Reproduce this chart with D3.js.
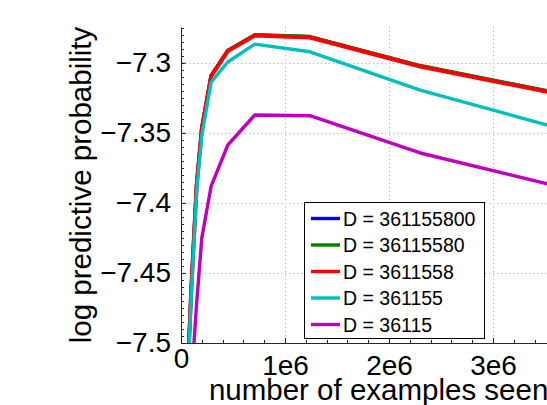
<!DOCTYPE html>
<html>
<head>
<meta charset="utf-8">
<script src="https://cdn.jsdelivr.net/npm/d3@7"></script>
<style>
  html, body { margin: 0; padding: 0; background: #fff; }
  svg { display: block; font-family: "Liberation Sans", Arial, Helvetica, sans-serif; }
</style>
</head>
<body>
<svg id="chart" width="547" height="405"></svg>
<script>
// Number of training examples processed at each evaluation
const examples = [50000, 100000, 150000, 200000, 290000, 450000, 710000, 1240000, 2300000, 3800000];

// Held-out log predictive probability for each value of D
const seriesLabels = ["D = 361155800", "D = 36115580", "D = 3611558", "D = 361155", "D = 36115"];
const seriesColors = ["#0000ff", "#008000", "#ff0000", "#00bfbf", "#bf00bf"];
const valuesD361155800 = [-7.5435, -7.4585, -7.3866, -7.3462, -7.3091, -7.2913, -7.2802, -7.2815, -7.3022, -7.3244];
const valuesD36115580  = [-7.5440, -7.4590, -7.3870, -7.3465, -7.3090, -7.2912, -7.2800, -7.2813, -7.3020, -7.3241];
const valuesD3611558   = [-7.5450, -7.4600, -7.3880, -7.3470, -7.3095, -7.2917, -7.2806, -7.2820, -7.3027, -7.3249];
const valuesD361155    = [-7.5500, -7.4650, -7.3920, -7.3520, -7.3138, -7.2995, -7.2867, -7.2922, -7.3195, -7.3501];
const valuesD36115     = [-7.5800, -7.5280, -7.4720, -7.4250, -7.3880, -7.3587, -7.3373, -7.3378, -7.3644, -7.3915];
const seriesValues = [valuesD361155800, valuesD36115580, valuesD3611558, valuesD361155, valuesD36115];

// Axis ticks
const xTicks = [0, 1000000, 2000000, 3000000];
const xTickLabels = ["0", "1e6", "2e6", "3e6"];
const yTicks = [-7.5, -7.45, -7.4, -7.35, -7.3];
const yTickLabels = ["\u22127.5", "\u22127.45", "\u22127.4", "\u22127.35", "\u22127.3"];

const svg = d3.select("#chart");
const plotLeft = 181, plotRight = 576.2, plotTop = 27, plotBottom = 343;

const x = d3.scaleLinear().domain([0, 3800000]).range([plotLeft, plotRight]);
const y = d3.scaleLinear().domain([-7.5, -7.2745]).range([plotBottom, plotTop]);

svg.append("defs").append("clipPath").attr("id", "plotArea")
  .append("rect").attr("x", plotLeft).attr("y", plotTop)
  .attr("width", plotRight - plotLeft).attr("height", plotBottom - plotTop);

// Dotted major grid
const grid = svg.append("g")
  .attr("stroke", "#b4b4b4").attr("stroke-width", 1).attr("stroke-dasharray", "1.2,2.8");
grid.selectAll("line.gx").data(xTicks.slice(1)).join("line")
  .attr("x1", d => Math.round(x(d)) + 0.5).attr("x2", d => Math.round(x(d)) + 0.5)
  .attr("y1", plotTop).attr("y2", plotBottom);
grid.selectAll("line.gy").data(yTicks.slice(1)).join("line")
  .attr("x1", plotLeft).attr("x2", plotRight)
  .attr("y1", d => Math.round(y(d)) + 0.5).attr("y2", d => Math.round(y(d)) + 0.5);

// Series lines
const line = d3.line().x((d, i) => x(examples[i])).y(d => y(d));
const lines = svg.append("g").attr("clip-path", "url(#plotArea)");
seriesValues.forEach((vals, k) => {
  lines.append("path").datum(vals)
    .attr("d", line)
    .attr("fill", "none")
    .attr("stroke", seriesColors[k])
    .attr("stroke-width", k === 2 ? 4 : 3.4)
    .attr("stroke-linejoin", "round");
});

// Axes (ticks pointing inward)
const xAxis = d3.axisBottom(x).tickValues(xTicks)
  .tickFormat((d, i) => xTickLabels[i]).tickSizeInner(-5).tickSizeOuter(0).tickPadding(12);
const gx = svg.append("g").attr("transform", `translate(0,${plotBottom})`).call(xAxis);
gx.selectAll("text").attr("font-size", 28).attr("fill", "#000")
  .attr("font-family", "Liberation Sans, Arial, sans-serif");
gx.selectAll("text").filter((d, i) => i === 0).attr("dy", "0.46em");
gx.select(".domain").attr("stroke", "#262626");
gx.selectAll(".tick line").attr("stroke", "#262626");

const yAxis = d3.axisLeft(y).tickValues(yTicks)
  .tickFormat((d, i) => yTickLabels[i]).tickSizeInner(-5).tickSizeOuter(0).tickPadding(10);
const gy = svg.append("g").attr("transform", `translate(${plotLeft},0)`).call(yAxis);
gy.selectAll("text").attr("font-size", 28).attr("fill", "#000")
  .attr("font-family", "Liberation Sans, Arial, sans-serif");
gy.select(".domain").attr("stroke", "#262626");
gy.selectAll(".tick line").attr("stroke", "#262626");

// Minor ticks
const yMinor = d3.range(-7.5, -7.2745, 0.005);
svg.append("g").selectAll("line").data(yMinor).join("line")
  .attr("x1", plotLeft).attr("x2", plotLeft + 3)
  .attr("y1", d => Math.round(y(d)) + 0.5).attr("y2", d => Math.round(y(d)) + 0.5)
  .attr("stroke", "#262626").attr("stroke-width", 1);
const xMinor = d3.range(0, 3800001, 200000);
svg.append("g").selectAll("line").data(xMinor).join("line")
  .attr("x1", d => Math.round(x(d)) + 0.5).attr("x2", d => Math.round(x(d)) + 0.5)
  .attr("y1", plotBottom).attr("y2", plotBottom - 3)
  .attr("stroke", "#262626").attr("stroke-width", 1);

// Axis titles
svg.append("text")
  .attr("x", (plotLeft + plotRight) / 2).attr("y", 399.5)
  .attr("text-anchor", "middle").attr("font-size", 29.5).attr("fill", "#000")
  .text("number of examples seen");
svg.append("text")
  .attr("transform", `translate(91,${(plotTop + plotBottom) / 2}) rotate(-90)`)
  .attr("text-anchor", "middle").attr("font-size", 29.5).attr("fill", "#000")
  .text("log predictive probability");

// Legend
const legend = svg.append("g");
legend.append("rect")
  .attr("x", 304.5).attr("y", 202.5).attr("width", 180).attr("height", 136)
  .attr("fill", "#fff").attr("stroke", "#000").attr("stroke-width", 1);
seriesLabels.forEach((label, k) => {
  const cy = 218.5 + k * 26.5;
  legend.append("line")
    .attr("x1", 311).attr("x2", 340).attr("y1", cy).attr("y2", cy)
    .attr("stroke", seriesColors[k]).attr("stroke-width", 3.4);
  legend.append("text")
    .attr("x", 343).attr("y", cy).attr("dy", "0.36em")
    .attr("font-size", 19.5).attr("fill", "#000")
    .text(label);
});
</script>
</body>
</html>
